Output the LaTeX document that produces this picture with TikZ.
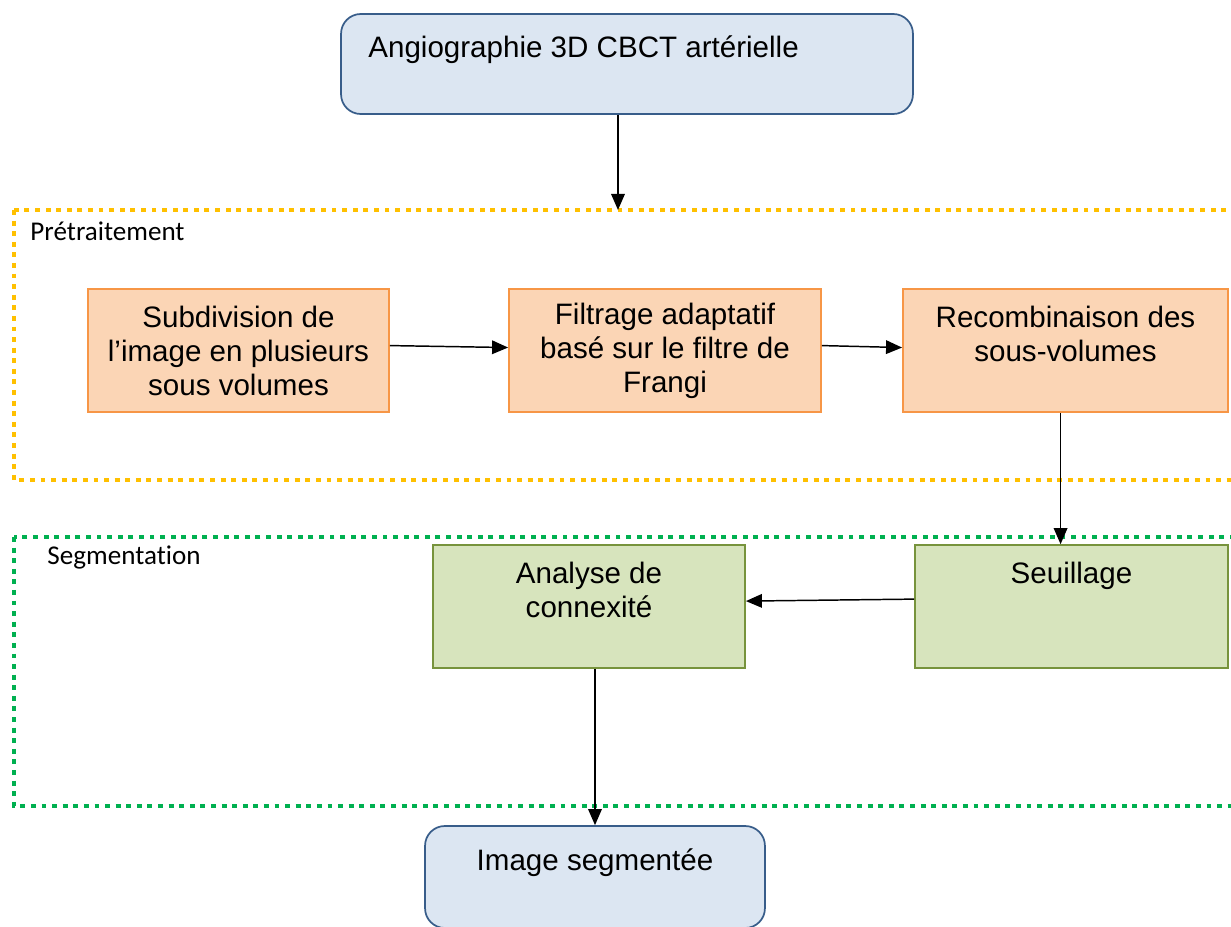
\documentclass[tikz,border=0pt]{standalone}
\usepackage{fontspec}
\setmainfont{Liberation Sans}
\newfontfamily\calib[Ligatures=NoCommon]{Carlito}
\usetikzlibrary{arrows.meta}
\definecolor{bleufond}{RGB}{220,230,242}
\definecolor{bleubord}{RGB}{56,93,138}
\definecolor{orfond}{RGB}{251,213,181}
\definecolor{orbord}{RGB}{247,150,70}
\definecolor{vertfond}{RGB}{215,228,189}
\definecolor{vertbord}{RGB}{119,147,60}
\definecolor{jaune}{RGB}{255,192,0}
\definecolor{vert}{RGB}{0,176,80}
\begin{document}
\begin{tikzpicture}[x=0.406pt,y=-0.406pt,
  font=\fontsize{12}{13.8}\selectfont,
  >={Triangle[length=6.5pt,width=5.5pt]},
  fleche/.style={->,line width=0.6pt},
  io/.style={draw=bleubord,fill=bleufond,line width=0.7pt,rounded corners=8pt,inner sep=0pt},
  pre/.style={draw=orbord,fill=orfond,line width=0.7pt,inner sep=0pt,align=center,minimum height=49.9pt},
  seg/.style={draw=vertbord,fill=vertfond,line width=0.7pt,inner sep=0pt,align=center,minimum height=49.9pt},
  cadre/.style={line width=2pt,dash pattern=on 2pt off 2.3pt},
  titre/.style={font=\calib\fontsize{11}{13}\selectfont,anchor=west,inner sep=0pt}]
\useasboundingbox (0,0) rectangle (1231,926);
% cadres
\draw[cadre,jaune] (14,210) rectangle (1245,480);
\draw[cadre,vert] (14,537) rectangle (1245,806);
\node[titre] (pretrait) at (30,231) {Prétraitement};
\node[titre] (segment) at (47,557) {Segmentation};
% blocs
\node[io,minimum width=232.2pt,minimum height=40.6pt,text width=210pt,align=flush left] (angio) at (627,64) {Angiographie 3D CBCT artérielle\\~};
\node[pre,minimum width=122.2pt] (subdiv) at (238.5,350.5) {Subdivision de\\l’image en plusieurs\\sous volumes};
\node[pre,minimum width=126.7pt] (filtre) at (665,350.5) {Filtrage adaptatif\\basé sur le filtre de\\Frangi};
\node[pre,minimum width=132pt] (recomb) at (1065.5,350.5) {Recombinaison des\\sous-volumes\\~};
\node[seg,minimum width=126.7pt] (connex) at (589,606.5) {Analyse de\\connexité\\~};
\node[seg,minimum width=127.1pt] (seuil) at (1071.5,606.5) {Seuillage\\~\\~};
\node[io,minimum width=138pt,minimum height=41.4pt,align=center] (imgseg) at (595,877) {Image segmentée\\~};
% fleches
\coordinate (entree) at (618,210);
\draw[fleche] (angio.south -| entree) -- (entree);
\draw[fleche] ([yshift=2pt]subdiv.east) -- ([yshift=1.2pt]filtre.west);
\draw[fleche] ([yshift=2pt]filtre.east) -- ([yshift=1.2pt]recomb.west);
\draw[fleche] ([xshift=-2pt]recomb.south) -- ([xshift=-2pt]recomb.south |- seuil.north);
\draw[fleche] ([yshift=3pt]seuil.west) -- ([yshift=2.2pt]connex.east);
\draw[fleche] (connex.south -| imgseg.north) -- (imgseg.north);
\end{tikzpicture}
\end{document}
